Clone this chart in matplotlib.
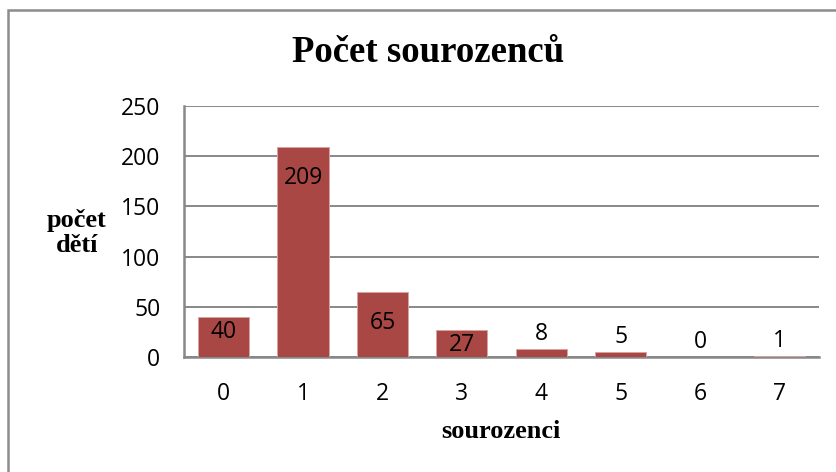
import matplotlib
matplotlib.use("Agg")
import matplotlib.pyplot as plt
from matplotlib.patches import Rectangle
from matplotlib import transforms

categories = ["0", "1", "2", "3", "4", "5", "6", "7"]
values = [40, 209, 65, 27, 8, 5, 0, 1]
yticks = [0, 50, 100, 150, 200, 250]
title = "Počet sourozenců"
ylabel = "počet\ndětí"
xlabel = "sourozenci"

W, H, DPI = 836, 472, 100
fig = plt.figure(figsize=(W / DPI, H / DPI), dpi=DPI)
fig.patch.set_facecolor("white")

L, R, T, B = 184, 819, 106, 357
ax = fig.add_axes([L / W, 1 - B / H, (R - L) / W, (B - T) / H])

bar_color = "#A94744"
grid_color = "#888888"
tick_font = "Open Sans"
serif = "Liberation Serif"

x = list(range(len(categories)))
ax.bar(x, values, width=0.645, color=bar_color, edgecolor="#D9A3A1",
       linewidth=0.7, zorder=3)

ax.set_xlim(-0.5, len(categories) - 0.5)
ax.set_ylim(0, 250)
ax.set_yticks(yticks)
ax.set_xticks(x)
ax.set_xticklabels(categories)
ax.yaxis.grid(True, color=grid_color, linewidth=1.4, zorder=0)
ax.set_axisbelow(True)
for s in ["top", "right"]:
    ax.spines[s].set_visible(False)
for s in ["left", "bottom"]:
    ax.spines[s].set_color(grid_color)
    ax.spines[s].set_linewidth(1.8)
ax.tick_params(axis="both", length=0, labelsize=16.5, colors="black")
ax.tick_params(axis="y", pad=17)
ax.tick_params(axis="x", pad=18)
for lab in ax.get_xticklabels() + ax.get_yticklabels():
    lab.set_fontfamily(tick_font)

# data labels
for xi, v in zip(x, values):
    bar_px = v / 250 * (B - T)
    if bar_px >= 20:
        pad = 19 if bar_px > 50 else 3
        off = transforms.offset_copy(ax.transData, fig=fig, x=0, y=-pad, units="dots")
        ax.text(xi, v, str(v), ha="center", va="top", fontsize=16.5,
                family=tick_font, transform=off, zorder=4)
    else:
        off = transforms.offset_copy(ax.transData, fig=fig, x=0, y=3, units="dots")
        ax.text(xi, v, str(v), ha="center", va="bottom", fontsize=16.5,
                family=tick_font, transform=off, zorder=4)

fig.text(428.5 / W, 1 - 53 / H, title, ha="center", va="center",
         fontsize=26.5, fontweight="bold", family=serif)
fig.text(77 / W, 1 - 233 / H, ylabel, ha="center", va="center",
         multialignment="center", fontsize=19, fontweight="bold",
         family=serif, linespacing=1.15)
fig.text(501 / W, 1 - 432 / H, xlabel, ha="center", va="center",
         fontsize=19, fontweight="bold", family=serif)

# outer chart border (runs off right and bottom edges)
fig.patches.append(Rectangle((8 / W, -0.1), 1.2, 1.1 - 10 / H,
                             transform=fig.transFigure, fill=False,
                             edgecolor="#8C8C8C", linewidth=1.8))

fig.savefig("out.png", dpi=DPI, facecolor="white")
